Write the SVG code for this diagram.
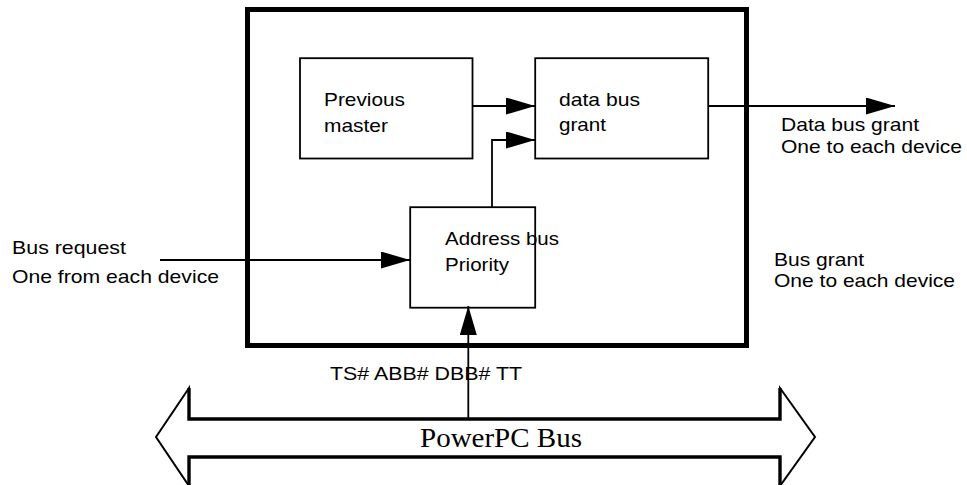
<svg xmlns="http://www.w3.org/2000/svg" width="967" height="485" viewBox="0 0 967 485">
<style>
.bx{fill:#fff;stroke:#000;stroke-width:1.8}
.ln{fill:none;stroke:#000;stroke-width:1.8}
.t{font-family:"Liberation Sans",Arial,sans-serif;font-size:19px;fill:#000}
.s{font-family:"Liberation Serif","Times New Roman",serif;font-size:28px;fill:#000}
</style>
<defs>
<marker id="ah" markerUnits="userSpaceOnUse" markerWidth="30" markerHeight="18" refX="29" refY="8.5" orient="auto">
<path d="M0,0 L29,8.5 L0,17 z" fill="#000"/>
</marker>
</defs>
<rect width="967" height="485" fill="#fff"/>
<g id="bus">
<polygon points="189,388 156,437 189,486 189,457 780,457 780,486 815,437 780,388 780,419 189,419" fill="#fff" stroke="#000" stroke-width="2"/>
<path d="M189,388 V419 H780 V388 M189,486 V457 H780 V486" fill="none" stroke="#000" stroke-width="3.4"/>
<text class="s" x="420" y="447" textLength="162" lengthAdjust="spacingAndGlyphs">PowerPC Bus</text>
</g>
<g id="arbiter">
<rect x="247.5" y="9.5" width="499" height="336" fill="none" stroke="#000" stroke-width="5"/>
</g>
<g id="previous-master">
<rect class="bx" x="300" y="58.2" width="172.5" height="100.3"/>
<text class="t" x="324" y="106" textLength="81" lengthAdjust="spacingAndGlyphs">Previous</text>
<text class="t" x="324" y="131.5" textLength="64" lengthAdjust="spacingAndGlyphs">master</text>
</g>
<g id="data-bus-grant">
<rect class="bx" x="535.2" y="58.2" width="173" height="100.3"/>
<text class="t" x="559" y="106" textLength="81" lengthAdjust="spacingAndGlyphs">data bus</text>
<text class="t" x="559" y="131" textLength="47" lengthAdjust="spacingAndGlyphs">grant</text>
</g>
<g id="address-bus-priority">
<rect class="bx" x="410.2" y="207.2" width="125" height="100.5"/>
<text class="t" x="445" y="245" textLength="114" lengthAdjust="spacingAndGlyphs">Address bus</text>
<text class="t" x="445" y="270.5" textLength="64" lengthAdjust="spacingAndGlyphs">Priority</text>
</g>
<g id="connectors">
<line class="ln" x1="472.5" y1="106" x2="535" y2="106" marker-end="url(#ah)"/>
<polyline class="ln" points="492,207.2 492,140 535,140" marker-end="url(#ah)"/>
<line class="ln" x1="160" y1="260" x2="410" y2="260" marker-end="url(#ah)"/>
<line class="ln" x1="468.3" y1="419" x2="468.3" y2="306" marker-end="url(#ah)"/>
<line class="ln" x1="708.2" y1="106" x2="895" y2="106" marker-end="url(#ah)"/>
</g>
<g id="labels">
<text class="t" x="12" y="254" textLength="114" lengthAdjust="spacingAndGlyphs">Bus request</text>
<text class="t" x="12" y="282.5" textLength="207" lengthAdjust="spacingAndGlyphs">One from each device</text>
<text class="t" x="781" y="130.5" textLength="138" lengthAdjust="spacingAndGlyphs">Data bus grant</text>
<text class="t" x="781" y="152.5" textLength="181" lengthAdjust="spacingAndGlyphs">One to each device</text>
<text class="t" x="774" y="265.5" textLength="90" lengthAdjust="spacingAndGlyphs">Bus grant</text>
<text class="t" x="774" y="287" textLength="181" lengthAdjust="spacingAndGlyphs">One to each device</text>
<text class="t" x="330" y="380" textLength="192" lengthAdjust="spacingAndGlyphs">TS# ABB# DBB# TT</text>
</g>
</svg>
